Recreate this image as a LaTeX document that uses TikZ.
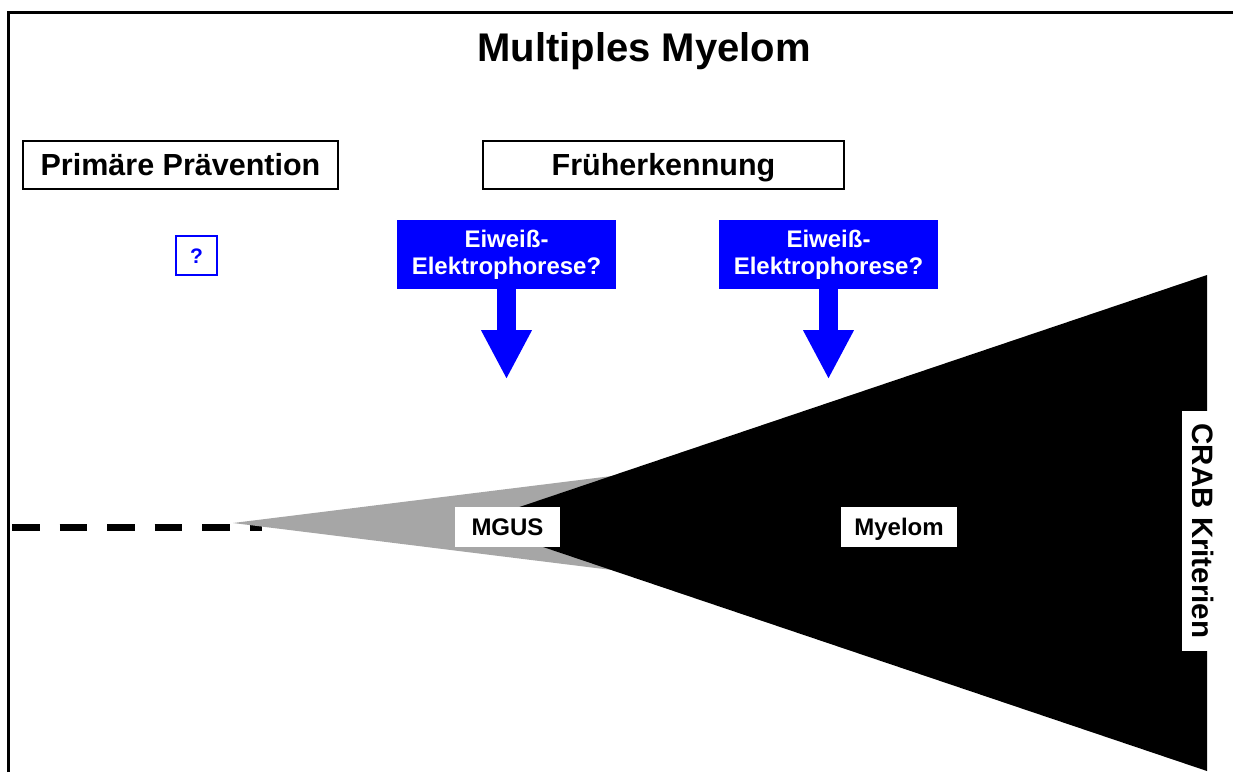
\documentclass[tikz,border=0pt]{standalone}
\usepackage{fontspec}
\setmainfont{Liberation Sans}
\usetikzlibrary{arrows.meta}
\definecolor{pblue}{RGB}{0,0,255}
\definecolor{mgray}{RGB}{166,166,166}
\begin{document}
\begin{tikzpicture}[x=1pt,y=-1pt,
  hbox/.style={draw=black, line width=1.2pt, fill=white, inner sep=0pt,
    font=\bfseries\fontsize{30.5}{36}\selectfont, text height=21.8pt, text depth=0pt},
  bluebox/.style={fill=pblue, text=white, inner sep=0pt, minimum width=219pt,
    minimum height=69pt, align=center, font=\bfseries\fontsize{24}{27}\selectfont},
  whitebox/.style={fill=white, inner sep=0pt, minimum height=40pt,
    font=\bfseries\fontsize{24}{28}\selectfont, text height=17.2pt, text depth=0pt},
  bigarrow/.style={draw=pblue, line width=19pt,
    -{Triangle[width=51pt,length=48pt,line width=0pt]}}]
\useasboundingbox (0,0) rectangle (1233,772);
% frame
\draw[line width=3pt] (8,772) -- (8,12) -- (1233,12);
% title
\node[font=\bfseries\fontsize{40}{46}\selectfont, anchor=base] (title) at (644,61) {Multiples Myelom};
% headings
\node[hbox, minimum width=315pt, minimum height=48pt] (prim) at (180.5,165) {Primäre Prävention};
\node[hbox, minimum width=361pt, minimum height=48pt] (frueh) at (663.5,165) {Früherkennung};
% question box
\node[draw=pblue, line width=1.3pt, text=pblue, inner sep=0pt, minimum width=41pt,
  minimum height=39pt, font=\bfseries\fontsize{21}{24}\selectfont, text height=15pt,
  text depth=0pt] (q) at (196.5,255.5) {?};
% dashed line
\coordinate (d0) at (12,527);
\coordinate (d1) at (262,527);
\draw[line width=7pt, dash pattern=on 27.5pt off 20pt] (d0) -- (d1);
% grey and black wedges
\fill[mgray] (233,523) -- (620,475) -- (620,571) -- cycle;
\fill[black] (472,523) -- (1207,275) -- (1207,771) -- cycle;
% blue boxes and arrows
\node[bluebox] (e1) at (506.5,254.5) {Eiweiß-\\Elektrophorese?};
\node[bluebox] (e2) at (828.5,254.5) {Eiweiß-\\Elektrophorese?};
\path (e1.south) ++(0,89) coordinate (t1);
\path (e2.south) ++(0,89) coordinate (t2);
\draw[bigarrow] (e1.south) -- (t1);
\draw[bigarrow] (e2.south) -- (t2);
% labels
\node[whitebox, minimum width=105pt] (mgus) at (507.5,527) {MGUS};
\node[whitebox, minimum width=116pt] (myelom) at (899,527) {Myelom};
\node[fill=white, inner sep=0pt, rotate=-90, minimum width=240pt, minimum height=42pt,
  font=\bfseries\fontsize{29.5}{34}\selectfont, text height=21.2pt, text depth=0pt]
  (crab) at (1203,531) {CRAB Kriterien};
\end{tikzpicture}
\end{document}
